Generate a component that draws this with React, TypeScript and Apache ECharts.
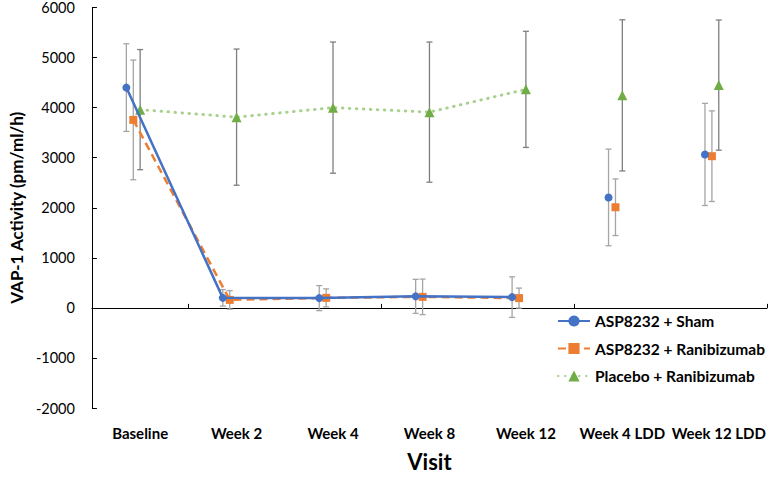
import React, { useEffect, useRef } from "react";
import * as echarts from "echarts";

const categories = ["Baseline", "Week 2", "Week 4", "Week 8", "Week 12", "Week 4 LDD", "Week 12 LDD"];
const seriesNames = ["ASP8232 + Sham", "ASP8232 + Ranibizumab", "Placebo + Ranibizumab"];
const shamMean = [4400, 200, 195, 230, 215, 2206, 3065];
const shamErr = [875, 165, 250, 340, 405, 965, 1020];
const raniMean = [3755, 160, 200, 220, 195, 2010, 3030];
const raniErr = [1195, 185, 180, 355, 200, 565, 905];
const placeboMean = [3960, 3810, 4000, 3910, 4365, 4245, 4450];
const placeboErr = [1200, 1360, 1310, 1400, 1160, 1510, 1300];
const yTicks = { min: -2000, max: 6000, interval: 1000 };
const connectedCount = 5;

const FONT = "Lato, 'Open Sans', sans-serif";

function lineData(means: number[], offset: number) {
  const out: any[] = [];
  means.forEach((m, i) => {
    if (i >= connectedCount) out.push([i, "-"]);
    out.push([i + 0.5 + offset, m]);
  });
  return out;
}

function errData(means: number[], errs: number[], offset: number) {
  return means.map((m, i) => [i + 0.5 + offset, m, errs[i]]);
}

function errSeries(name: string, means: number[], errs: number[], offset: number, color: string) {
  return {
    type: "custom",
    name,
    xAxisIndex: 1,
    yAxisIndex: 0,
    z: 1,
    encode: { x: 0, y: 1 },
    data: errData(means, errs, offset),
    renderItem: (params: any, api: any) => {
      const x = api.value(0);
      const y = api.value(1);
      const e = api.value(2);
      const top = api.coord([x, y + e]);
      const bot = api.coord([x, y - e]);
      const hw = 3;
      const style = { stroke: color, lineWidth: 1.3 };
      return {
        type: "group",
        children: [
          { type: "line", shape: { x1: top[0], y1: top[1], x2: bot[0], y2: bot[1] }, style },
          { type: "line", shape: { x1: top[0] - hw, y1: top[1], x2: top[0] + hw, y2: top[1] }, style },
          { type: "line", shape: { x1: bot[0] - hw, y1: bot[1], x2: bot[0] + hw, y2: bot[1] }, style },
        ],
      };
    },
  };
}

export default function App() {
  const ref = useRef<HTMLDivElement>(null);
  useEffect(() => {
    if (!ref.current) return;
    const chart = echarts.init(ref.current, undefined, { renderer: "svg" });
    const offSham = -0.143;
    const offRani = -0.071;
    const offPlac = 0;
    chart.setOption({
      animation: false,
      backgroundColor: "#ffffff",
      textStyle: { fontFamily: FONT },
      grid: { left: 80, right: 1, top: 6, bottom: 59, containLabel: false },
      legend: {
        data: seriesNames,
        orient: "vertical",
        left: 552,
        top: 308,
        itemGap: 11.5,
        itemWidth: 32,
        itemHeight: 14,
        textStyle: { fontFamily: FONT, fontWeight: "bold", fontSize: 15.5, color: "#000" },
      },
      xAxis: [
        {
          type: "category",
          data: categories,
          boundaryGap: true,
          position: "bottom",
          axisLine: { show: true, lineStyle: { color: "#000", width: 1 } },
          axisTick: { show: true, inside: true, length: 4, interval: (i: number) => i % 2 === 1, lineStyle: { color: "#000" } },
          axisLabel: { interval: 0, fontFamily: FONT, fontWeight: "bold", fontSize: 15, color: "#000", margin: 17 },
          name: "Visit",
          nameLocation: "middle",
          nameGap: 42,
          nameTextStyle: { fontFamily: FONT, fontWeight: "bold", fontSize: 22, color: "#000" },
          splitLine: { show: false },
        },
        { type: "value", min: 0, max: categories.length, show: false },
      ],
      yAxis: {
        type: "value",
        min: yTicks.min,
        max: yTicks.max,
        interval: yTicks.interval,
        axisLine: { show: true, lineStyle: { color: "#000", width: 1 } },
        axisTick: { show: true, inside: true, length: 5, lineStyle: { color: "#000" } },
        axisLabel: { fontFamily: FONT, fontSize: 14.5, color: "#000", margin: 17, formatter: (v: number) => String(v) },
        splitLine: { show: false },
        name: "VAP-1 Activity (pm/ml/h)",
        nameLocation: "middle",
        nameGap: 60,
        nameTextStyle: { fontFamily: FONT, fontWeight: "bold", fontSize: 17, color: "#000" },
      },
      series: [
        errSeries("errSham", shamMean, shamErr, offSham, "#a5a5a5"),
        errSeries("errRani", raniMean, raniErr, offRani, "#a5a5a5"),
        errSeries("errPlac", placeboMean, placeboErr, offPlac, "#7f7f7f"),
        {
          type: "line",
          name: seriesNames[2],
          xAxisIndex: 1,
          z: 3,
          data: lineData(placeboMean, offPlac),
          connectNulls: false,
          symbol: "triangle",
          symbolSize: 10,
          itemStyle: { color: "#70AD47" },
          lineStyle: { color: "#A9D18E", width: 3, type: [0.5, 6.5], cap: "round" },
        },
        {
          type: "line",
          name: seriesNames[1],
          xAxisIndex: 1,
          z: 4,
          data: lineData(raniMean, offRani),
          connectNulls: false,
          symbol: "rect",
          symbolSize: 8,
          itemStyle: { color: "#ED7D31" },
          lineStyle: { color: "#ED7D31", width: 2.5, type: [8, 5] },
        },
        {
          type: "line",
          name: seriesNames[0],
          xAxisIndex: 1,
          z: 5,
          data: lineData(shamMean, offSham),
          connectNulls: false,
          symbol: "circle",
          symbolSize: 8,
          itemStyle: { color: "#4472C4" },
          lineStyle: { color: "#4472C4", width: 2.5 },
        },
      ],
    });
    return () => chart.dispose();
  }, []);
  return (
    <div
      ref={ref}
      style={{ position: "fixed", left: 0, top: 0, width: 768, height: 477, background: "#fff" }}
    />
  );
}
